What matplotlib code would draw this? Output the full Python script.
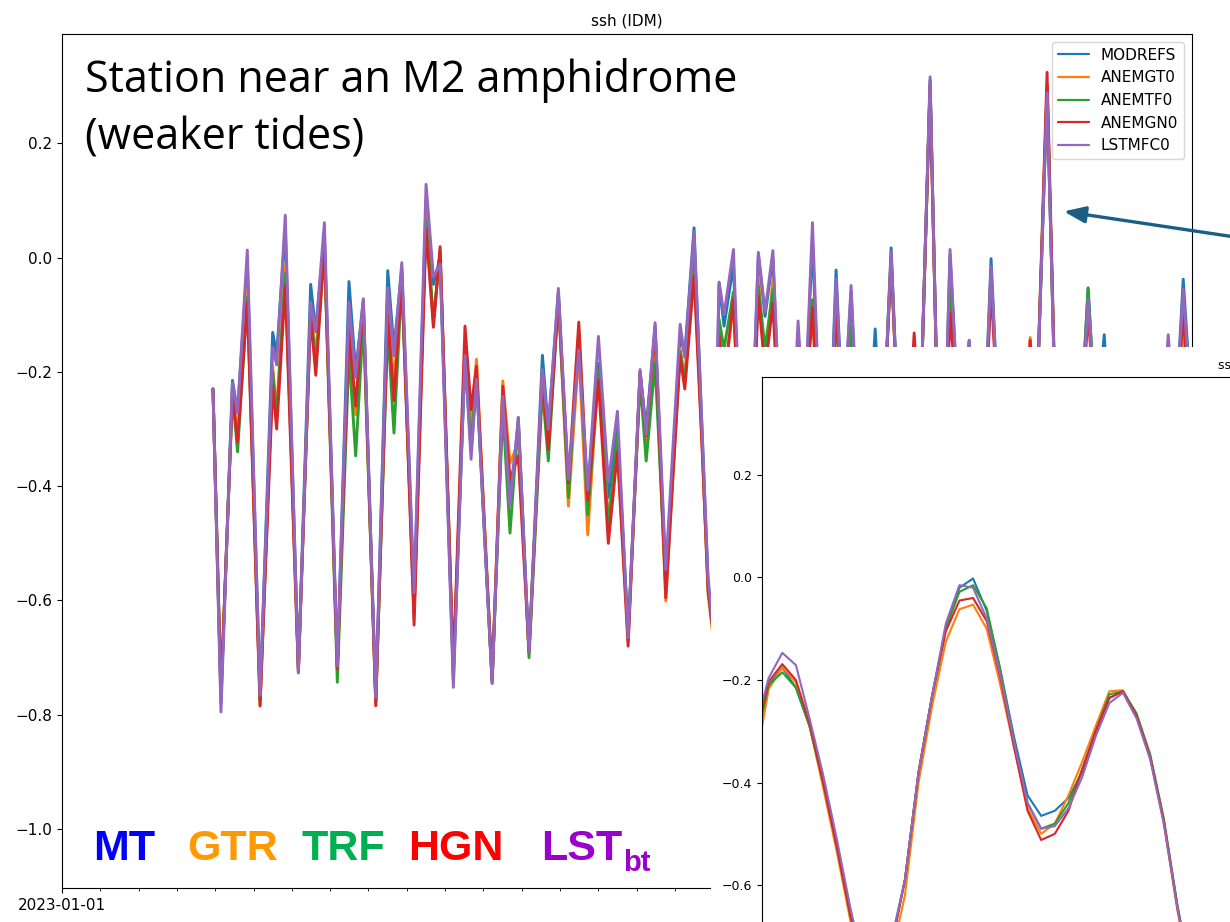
import numpy as np
import pandas as pd
import matplotlib
matplotlib.use("Agg")
import matplotlib.pyplot as plt
import matplotlib.dates as mdates
from matplotlib.patches import Rectangle, FancyArrowPatch

# ---- main panel: turning points (hours after 2023-01-01 00:00)
hours = [94.6, 99.6, 106.8, 110.0, 116.1, 124.1, 132.0, 134.5, 139.9, 148.1,
         155.8, 159.0, 164.4, 172.5, 179.8, 184.0, 188.8, 196.6, 204.1, 208.0,
         212.9, 220.6, 228.1, 232.7, 236.9, 245.2, 252.5, 256.3, 259.7, 269.5,
         276.2, 280.7, 285.9, 292.6, 301.0, 304.7, 311.0, 317.3, 323.8, 329.4,
         336.1, 342.3, 348.0, 354.7, 362.2, 366.0, 371.6, 378.3, 387.3, 390.2,
         396.0, 401.0, 404.8, 407.3, 411.7, 414.8, 420.7, 428.6, 436.3, 440.5,
         445.4, 453.7, 461.2, 465.0, 470.2, 478.1, 485.0, 489.4, 494.4, 501.9,
         509.5, 513.8, 519.5, 527.0, 533.9, 537.6, 543.9, 550.8, 556.4, 562.1,
         568.4, 575.2, 582.1, 587.8, 594.0, 600.3, 606.6, 610.3, 617.2, 625.4,
         634.1, 642.9, 647.9, 653.0, 660.5, 667.4, 672.4, 677.4, 684.9, 693.1,
         697.4, 702.5, 713.1]

modrefs = [-0.23, -0.78, -0.215, -0.27, -0.01, -0.77, -0.131, -0.17, 0.05, -0.72,
           -0.047, -0.13, 0.04, -0.715, -0.042, -0.2, -0.075, -0.775, -0.023, -0.16,
           -0.02, -0.6, 0.1, -0.047, 0.0, -0.74, -0.17, -0.34, -0.21, -0.745,
           -0.23, -0.42, -0.29, -0.69, -0.171, -0.3, -0.06, -0.4, -0.16, -0.42,
           -0.185, -0.42, -0.3, -0.66, -0.2, -0.3, -0.12, -0.57, -0.137, -0.169,
           0.052, -0.30, -0.57, -0.64, -0.045, -0.12, -0.012, -0.6, 0.005, -0.103,
           0.0, -0.55, -0.13, -0.3, 0.029, -0.55, -0.022, -0.3, -0.06, -0.5,
           -0.125, -0.35, 0.017, -0.5, -0.17, -0.3, 0.31, -0.55, 0.005, -0.3,
           -0.145, -0.5, -0.002, -0.35, -0.2, -0.5, -0.17, -0.3, 0.29, -0.6,
           -0.5, -0.053, -0.3, -0.135, -0.5, -0.25, -0.4, -0.25, -0.5, -0.15,
           -0.3, -0.038, -0.5]

anemgt0 = [-0.23, -0.77, -0.23, -0.31, -0.056, -0.785, -0.19, -0.27, -0.014, -0.725,
           -0.09, -0.172, 0.025, -0.72, -0.122, -0.275, -0.09, -0.784, -0.09, -0.22,
           -0.03, -0.63, 0.079, -0.116, 0.01, -0.73, -0.15, -0.29, -0.178, -0.74,
           -0.216, -0.36, -0.324, -0.69, -0.2, -0.33, -0.07, -0.435, -0.165, -0.485,
           -0.2, -0.46, -0.33, -0.67, -0.205, -0.32, -0.14, -0.601, -0.16, -0.21,
           0.008, -0.32, -0.59, -0.65, -0.12, -0.22, -0.08, -0.6, -0.033, -0.2,
           -0.039, -0.55, -0.2, -0.3, -0.08, -0.55, -0.1, -0.3, -0.15, -0.5,
           -0.2, -0.35, 0.0, -0.5, -0.16, -0.3, 0.30, -0.55, -0.026, -0.3,
           -0.17, -0.5, -0.03, -0.35, -0.2, -0.5, -0.14, -0.3, 0.30, -0.6,
           -0.5, -0.07, -0.3, -0.17, -0.5, -0.25, -0.4, -0.25, -0.5, -0.17,
           -0.3, -0.12, -0.5]

anemtf0 = [-0.23, -0.765, -0.235, -0.34, -0.07, -0.775, -0.2, -0.28, -0.028, -0.72,
           -0.095, -0.19, 0.02, -0.743, -0.166, -0.347, -0.11, -0.775, -0.122, -0.307,
           -0.04, -0.62, 0.066, -0.11, 0.01, -0.725, -0.172, -0.33, -0.205, -0.74,
           -0.266, -0.482, -0.28, -0.70, -0.23, -0.356, -0.07, -0.42, -0.13, -0.45,
           -0.2, -0.47, -0.31, -0.66, -0.215, -0.356, -0.185, -0.575, -0.165, -0.22,
           -0.01, -0.32, -0.58, -0.64, -0.108, -0.16, -0.06, -0.6, -0.05, -0.16,
           -0.056, -0.55, -0.2, -0.3, -0.074, -0.55, -0.09, -0.3, -0.12, -0.5,
           -0.2, -0.35, 0.0, -0.5, -0.17, -0.3, 0.305, -0.55, -0.032, -0.3,
           -0.17, -0.5, -0.03, -0.35, -0.2, -0.5, -0.17, -0.3, 0.30, -0.6,
           -0.5, -0.055, -0.3, -0.17, -0.5, -0.25, -0.4, -0.25, -0.5, -0.17,
           -0.3, -0.08, -0.5]

anemgn0 = [-0.23, -0.76, -0.24, -0.323, -0.078, -0.784, -0.225, -0.30, -0.05, -0.725,
           -0.1, -0.206, 0.019, -0.72, -0.128, -0.26, -0.08, -0.784, -0.103, -0.25,
           -0.034, -0.643, 0.05, -0.122, 0.019, -0.717, -0.12, -0.266, -0.19, -0.74,
           -0.225, -0.388, -0.347, -0.69, -0.208, -0.336, -0.073, -0.394, -0.113, -0.425,
           -0.215, -0.5, -0.34, -0.68, -0.2, -0.312, -0.126, -0.595, -0.172, -0.23,
           -0.032, -0.33, -0.58, -0.64, -0.137, -0.22, -0.073, -0.6, -0.067, -0.2,
           -0.08, -0.55, -0.2, -0.3, -0.088, -0.55, -0.088, -0.3, -0.16, -0.5,
           -0.2, -0.35, -0.003, -0.5, -0.132, -0.3, 0.30, -0.55, -0.096, -0.3,
           -0.17, -0.5, -0.05, -0.35, -0.2, -0.5, -0.145, -0.3, 0.324, -0.6,
           -0.5, -0.096, -0.3, -0.17, -0.5, -0.25, -0.4, -0.25, -0.5, -0.17,
           -0.3, -0.1, -0.5]

lstmfc0 = [-0.23, -0.795, -0.219, -0.272, 0.013, -0.766, -0.157, -0.188, 0.074, -0.727,
           -0.078, -0.128, 0.061, -0.715, -0.078, -0.21, -0.072, -0.77, -0.053, -0.172,
           -0.009, -0.586, 0.128, -0.034, -0.012, -0.752, -0.172, -0.353, -0.213, -0.745,
           -0.243, -0.435, -0.28, -0.69, -0.196, -0.3, -0.054, -0.388, -0.162, -0.407,
           -0.138, -0.393, -0.269, -0.665, -0.196, -0.31, -0.114, -0.546, -0.117, -0.175,
           0.045, -0.30, -0.56, -0.63, -0.043, -0.10, 0.014, -0.6, 0.009, -0.095,
           0.012, -0.55, -0.111, -0.3, 0.061, -0.55, -0.038, -0.3, -0.049, -0.5,
           -0.17, -0.35, 0.01, -0.5, -0.17, -0.3, 0.316, -0.55, 0.014, -0.3,
           -0.145, -0.5, -0.015, -0.35, -0.2, -0.5, -0.17, -0.3, 0.288, -0.6,
           -0.5, -0.073, -0.3, -0.17, -0.5, -0.25, -0.4, -0.25, -0.5, -0.135,
           -0.3, -0.055, -0.5]

# ---- zoomed panel: hourly values of one day and a half
zoom_hours = list(range(-1, 34))
zoom_modrefs = [-0.322, -0.21, -0.176, -0.215, -0.29, -0.40, -0.52, -0.65, -0.76, -0.80,
                -0.71, -0.59, -0.38, -0.23, -0.10, -0.02, -0.002, -0.065, -0.18, -0.31,
                -0.425, -0.465, -0.455, -0.43, -0.38, -0.30, -0.235, -0.222, -0.27, -0.35,
                -0.475, -0.64, -0.78, -0.85, -0.82]
zoom_anemgt0 = [-0.368, -0.218, -0.175, -0.205, -0.29, -0.41, -0.535, -0.67, -0.78, -0.81,
                -0.74, -0.62, -0.40, -0.25, -0.125, -0.062, -0.053, -0.10, -0.21, -0.33,
                -0.45, -0.50, -0.48, -0.425, -0.36, -0.29, -0.222, -0.220, -0.27, -0.35,
                -0.48, -0.65, -0.79, -0.86, -0.83]
zoom_anemtf0 = [-0.33, -0.21, -0.185, -0.215, -0.29, -0.40, -0.525, -0.66, -0.77, -0.80,
                -0.72, -0.59, -0.38, -0.23, -0.10, -0.028, -0.015, -0.06, -0.18, -0.32,
                -0.44, -0.49, -0.48, -0.44, -0.375, -0.30, -0.228, -0.222, -0.265, -0.345,
                -0.47, -0.64, -0.78, -0.85, -0.82]
zoom_anemgn0 = [-0.317, -0.203, -0.169, -0.200, -0.285, -0.40, -0.525, -0.66, -0.77, -0.80,
                -0.72, -0.59, -0.38, -0.23, -0.105, -0.045, -0.04, -0.085, -0.195, -0.33,
                -0.455, -0.512, -0.50, -0.455, -0.375, -0.30, -0.235, -0.222, -0.27, -0.35,
                -0.475, -0.645, -0.78, -0.85, -0.82]
zoom_lstmfc0 = [-0.297, -0.196, -0.147, -0.171, -0.275, -0.385, -0.51, -0.645, -0.76, -0.80,
                -0.71, -0.59, -0.38, -0.23, -0.09, -0.015, -0.02, -0.08, -0.19, -0.32,
                -0.44, -0.49, -0.485, -0.45, -0.39, -0.31, -0.245, -0.225, -0.275, -0.355,
                -0.48, -0.645, -0.78, -0.85, -0.82]

names = ["MODREFS", "ANEMGT0", "ANEMTF0", "ANEMGN0", "LSTMFC0"]
short_names = ["MT", "GTR", "TRF", "HGN", "LST"]
short_colors = ["#0000FF", "#FF9900", "#00B050", "#FF0000", "#9900CC"]

W, H = 1230, 922
fig = plt.figure(figsize=(W / 100, H / 100), dpi=100)

start = pd.Timestamp("2023-01-01")
times = start + pd.to_timedelta(hours, unit="h")

ax = fig.add_axes([62 / W, 1 - 888 / H, 1130 / W, 854 / H])
for name, vals in zip(names, [modrefs, anemgt0, anemtf0, anemgn0, lstmfc0]):
    ax.plot(times, vals, lw=2.1, label=name,
            solid_joinstyle="round", solid_capstyle="round")
ax.set_xlim(start, start + pd.Timedelta(days=29.5))
ax.set_ylim(-1.103, 0.391)
ax.xaxis.set_major_locator(mdates.MonthLocator())
ax.xaxis.set_minor_locator(mdates.DayLocator())
ax.xaxis.set_major_formatter(mdates.DateFormatter("%Y-%m-%d"))
ax.tick_params(labelsize=11)
ax.set_title("ssh (IDM)", fontsize=11)
leg = ax.legend(loc="upper right", fontsize=11)
for line in leg.get_lines():
    line.set_linewidth(1.6)

# white card of the pasted zoom figure
card = Rectangle((711 / W, 0), 1 - 711 / W, 1 - 347 / H, transform=fig.transFigure,
                 facecolor="white", edgecolor="none", zorder=1)
fig.add_artist(card)

ax2 = fig.add_axes([762 / W, 1 - 1143 / H, 970 / W, 766 / H])
ax2.set_zorder(2)
for name, vals in zip(names, [zoom_modrefs, zoom_anemgt0, zoom_anemtf0,
                              zoom_anemgn0, zoom_lstmfc0]):
    ax2.plot(zoom_hours, vals, lw=1.5, label=name)
ax2.set_xlim(-0.49, 70.7)
ax2.set_ylim(-1.103, 0.391)
ax2.set_yticks([0.2, 0.0, -0.2, -0.4, -0.6])
ax2.tick_params(labelsize=9, labelbottom=False)
ax2.set_title("ssh (IDM)", fontsize=9)

# slide annotations
fig.text(85 / W, 1 - 92 / H, "Station near an M2 amphidrome", fontsize=31,
         family="Open Sans", va="baseline", zorder=3)
fig.text(85 / W, 1 - 148 / H, "(weaker tides)", fontsize=31,
         family="Open Sans", va="baseline", zorder=3)

label_x = [93, 187, 302, 408, 541]
for x, s, c in zip(label_x, short_names, short_colors):
    fig.text(x / W, 1 - 860 / H, s, color=c, fontsize=31, fontweight="bold",
             family="Liberation Sans", va="baseline", zorder=3)
fig.text(623 / W, 1 - 871 / H, "bt", color=short_colors[4], fontsize=21,
         fontweight="bold", family="Liberation Sans", va="baseline", zorder=3)

arrow = FancyArrowPatch((1245 / W, 1 - 238.5 / H), (1061 / W, 1 - 211 / H),
                        transform=fig.transFigure, color="#1B5E84", lw=2.4,
                        arrowstyle="-|>,head_length=0.65,head_width=0.25",
                        mutation_scale=20, zorder=3)
fig.add_artist(arrow)

fig.savefig("out.png", dpi=100)
